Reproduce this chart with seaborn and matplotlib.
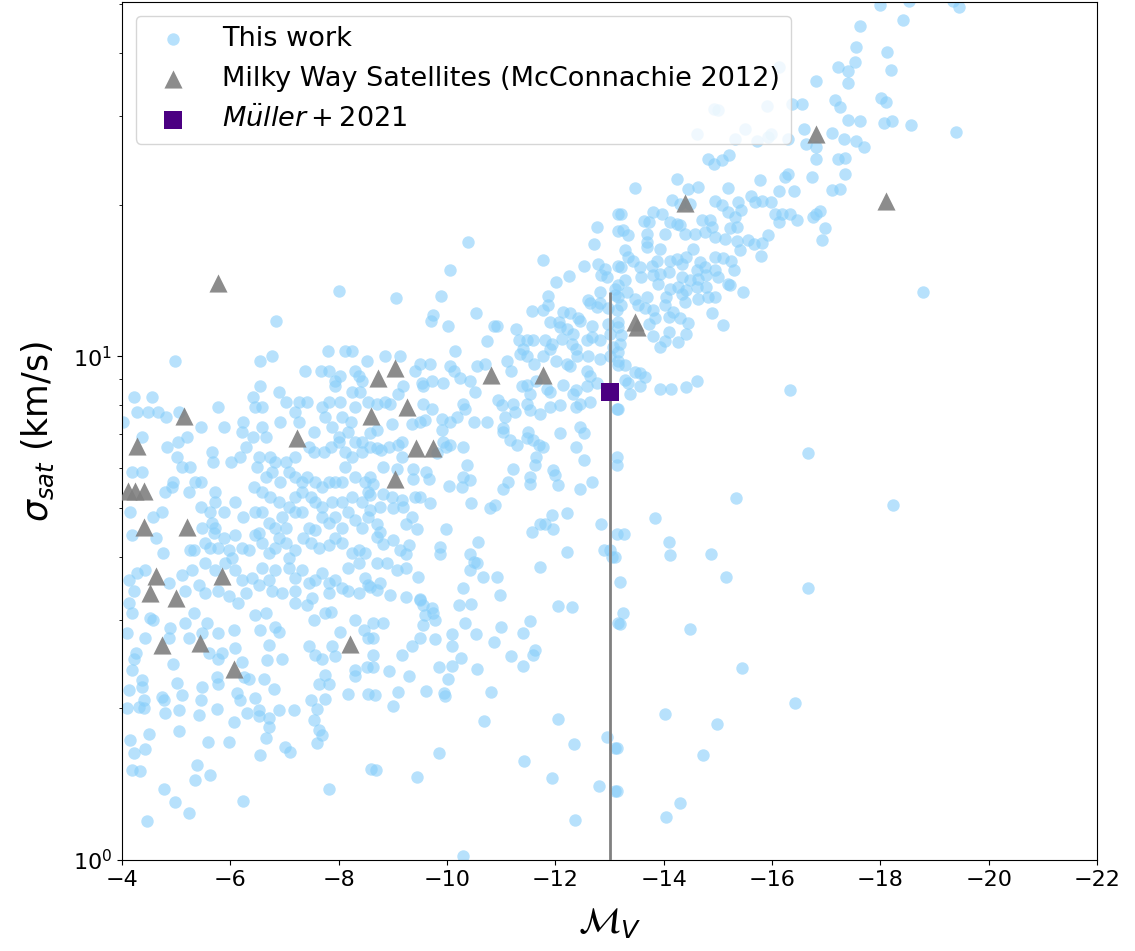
import numpy as np
import pandas as pd
import matplotlib
matplotlib.use("Agg")
import matplotlib.pyplot as plt
import seaborn as sns

# Simulated satellites: (M_V, log10 sigma_sat [km/s]), grouped by region of the plane
faint_upper = [
    (-8.01, 1.13), (-6.84, 1.07),
    (-4.97, .99), (-6.55, .99), (-6.77, 1.00), (-7.80, 1.01), (-8.12, 1.01), (-8.25, 1.01), (-7.38, .97), (-7.68, .97),
    (-7.82, .97), (-8.03, .96), (-7.94, .95), (-8.31, .97), (-8.38, .96), (-8.52, .99), (-8.43, .95), (-7.94, .94),
    (-6.90, .93), (-6.55, .94), (-6.41, .92), (-4.23, .92), (-4.55, .92), (-4.28, .89), (-4.48, .89), (-4.66, .89),
    (-4.82, .88), (-5.06, .89), (-5.78, .90), (-6.46, .90), (-6.58, .90), (-7.02, .91), (-7.26, .91), (-7.42, .91),
    (-7.20, .89), (-7.69, .90), (-7.82, .91), (-8.03, .91), (-8.25, .93), (-8.31, .90), (-8.40, .93), (-8.55, .91),
    (-4.02, .87), (-5.46, .86), (-5.88, .86), (-6.23, .87), (-6.22, .85), (-6.41, .84), (-6.58, .86), (-6.66, .84),
    (-6.92, .87), (-7.26, .87), (-7.54, .85), (-7.75, .88), (-7.88, .86), (-8.06, .88), (-8.23, .87), (-8.00, .84),
    (-8.18, .85), (-8.31, .83), (-8.43, .83),
    (-4.37, .84), (-4.83, .82), (-5.03, .83), (-5.20, .84), (-5.02, .80), (-5.10, .78), (-5.26, .78), (-5.66, .81),
    (-5.68, .79), (-6.02, .79), (-6.17, .80), (-6.28, .82), (-6.52, .80), (-6.74, .80), (-6.83, .79), (-7.02, .79),
    (-7.20, .80), (-7.45, .82), (-7.54, .81), (-7.72, .81), (-7.85, .82), (-8.00, .83), (-8.12, .81), (-8.25, .80),
    (-8.43, .81),
    (-4.18, .77), (-4.37, .77), (-4.95, .75), (-5.35, .75), (-5.46, .75), (-5.72, .73), (-6.43, .74), (-6.49, .78),
    (-6.65, .76), (-6.77, .77), (-6.92, .75), (-7.08, .77), (-7.20, .76), (-7.32, .75), (-7.42, .76), (-7.57, .75),
    (-7.69, .74), (-7.82, .75), (-7.94, .75), (-8.06, .75), (-8.12, .78), (-8.31, .76), (-8.49, .75),
    (-4.80, .73), (-4.92, .74), (-5.23, .73), (-5.45, .70), (-5.63, .69), (-5.72, .71), (-5.88, .69), (-6.09, .71),
    (-6.58, .73), (-6.74, .72), (-6.89, .71), (-7.08, .70), (-7.20, .72), (-7.32, .73), (-7.48, .72), (-7.57, .71),
    (-7.69, .70), (-7.88, .71), (-8.06, .71), (-8.25, .72), (-8.43, .71), (-8.55, .73),
    (-4.15, .69), (-4.58, .68), (-4.74, .69), (-5.48, .66), (-5.66, .67), (-5.72, .66), (-5.69, .65), (-5.88, .64),
    (-5.78, .62), (-6.09, .645), (-6.23, .68), (-6.46, .69), (-6.58, .69), (-6.71, .67), (-6.83, .66), (-6.95, .68),
    (-7.02, .66), (-7.20, .69), (-7.32, .69), (-7.45, .66), (-7.57, .655), (-7.69, .68), (-7.82, .67), (-7.94, .68),
    (-8.06, .66), (-8.18, .69), (-8.31, .675), (-8.43, .66), (-8.55, .68),
    (-4.18, .645), (-4.63, .64), (-4.75, .61), (-5.26, .615), (-5.32, .615), (-5.54, .63), (-5.63, .62), (-5.97, .615),
    (-6.03, .60), (-6.22, .62), (-6.34, .615), (-6.46, .645), (-6.52, .65), (-6.58, .63), (-6.71, .61), (-6.83, .62),
    (-6.89, .64), (-7.02, .63), (-7.08, .60), (-7.20, .615), (-7.35, .64), (-7.48, .63), (-7.63, .62), (-7.82, .625),
    (-7.94, .64), (-8.06, .63), (-8.25, .61), (-8.37, .615), (-8.49, .61),
    (-4.28, .57), (-4.42, .575), (-4.12, .555), (-4.22, .535), (-4.86, .55), (-5.11, .565), (-5.29, .575), (-5.54, .59),
    (-5.72, .575), (-5.91, .59), (-6.09, .575), (-6.22, .555), (-6.40, .56), (-6.58, .58), (-6.71, .555), (-6.83, .575),
    (-7.08, .58), (-7.20, .56), (-7.32, .575), (-7.45, .55), (-7.57, .555), (-7.69, .57), (-7.82, .55), (-7.94, .555),
    (-8.06, .54), (-8.18, .58), (-8.37, .59), (-8.49, .56),
    (-5.17, .535), (-5.42, .545), (-5.54, .53), (-5.78, .535), (-5.97, .525), (-6.28, .53), (-6.52, .545), (-6.77, .535),
    (-6.95, .53), (-7.20, .535), (-7.51, .52), (-7.82, .53), (-8.18, .535), (-8.37, .53), (-8.55, .545),
]

faint_lower = [
    (-4.12, .51), (-4.18, .49), (-4.52, .48), (-4.58, .476), (-4.09, .45), (-4.43, .44), (-4.25, .41), (-4.23, .40),
    (-4.89, .46), (-4.86, .44), (-4.95, .39), (-5.17, .47), (-5.23, .44), (-5.32, .49), (-5.57, .47), (-5.48, .45),
    (-5.77, .45), (-5.60, .41), (-5.78, .40), (-5.85, .41), (-6.06, .457), (-6.09, .42), (-6.15, .51), (-6.46, .486),
    (-6.55, .457), (-6.65, .49), (-6.71, .427), (-6.68, .397), (-6.83, .463), (-6.89, .453), (-6.95, .40), (-7.20, .51),
    (-7.42, .506), (-7.54, .476), (-7.75, .49), (-7.85, .493), (-7.88, .424), (-8.03, .453), (-8.31, .476), (-8.46, .457),
    (-8.55, .44), (-7.45, .424), (-7.57, .407), (-7.69, .40), (-7.94, .404), (-7.75, .367), (-7.82, .35), (-7.63, .35),
    (-8.31, .377), (-8.30, .365), (-8.52, .384), (-7.48, .318), (-7.60, .30), (-7.75, .32), (-7.54, .278), (-7.63, .258),
    (-7.69, .248), (-7.60, .232), (-8.18, .33), (-8.55, .33),
    (-4.18, .377), (-4.37, .357), (-4.37, .344), (-4.12, .338), (-4.40, .318), (-4.74, .324), (-4.77, .318), (-5.02, .352),
    (-5.11, .328), (-5.48, .344), (-5.45, .318), (-5.75, .364), (-5.78, .35), (-6.22, .394), (-6.25, .364), (-6.34, .36),
    (-6.62, .36), (-6.80, .34), (-6.12, .331), (-6.18, .318), (-6.45, .321), (-6.52, .298), (-6.52, .285), (-6.71, .281),
    (-6.71, .265), (-6.89, .298), (-7.17, .297), (-6.31, .291), (-5.75, .30), (-5.42, .288), (-5.06, .298), (-4.80, .291),
    (-4.40, .301), (-4.09, .301), (-4.31, .304), (-4.49, .25), (-5.05, .256), (-5.59, .235), (-5.97, .235), (-6.06, .273),
    (-6.65, .242), (-7.00, .225), (-7.11, .215), (-6.55, .208), (-4.15, .238), (-4.22, .213), (-4.43, .22), (-4.18, .179),
    (-4.34, .176), (-5.38, .189), (-5.35, .158), (-5.63, .169), (-4.77, .141), (-4.98, .115), (-5.23, .094), (-4.46, .078),
    (-6.23, .118), (-7.82, .14), (-8.60, .18),
]

mid_upper = [
    (-13.16, 1.282), (-12.76, 1.257), (-13.16, 1.249), (-10.39, 1.226), (-12.71, 1.222), (-11.77, 1.192),
    (-10.06, 1.172), (-12.53, 1.179), (-12.79, 1.183), (-12.92, 1.174), (-12.85, 1.161), (-12.95, 1.157),
    (-13.16, 1.179), (-12.26, 1.160), (-12.01, 1.148), (-9.89, 1.120), (-11.86, 1.119), (-9.06, 1.116),
    (-12.82, 1.128), (-13.10, 1.134), (-13.16, 1.118), (-12.61, 1.111), (-12.64, 1.105), (-12.76, 1.098),
    (-12.82, 1.105), (-12.98, 1.095), (-13.13, 1.091), (-9.75, 1.081), (-9.70, 1.071), (-10.01, 1.060),
    (-10.53, 1.085), (-11.56, 1.090), (-11.78, 1.091), (-11.86, 1.101), (-12.15, 1.088), (-12.27, 1.085),
    (-12.42, 1.075), (-12.46, 1.071), (-11.90, 1.068), (-12.06, 1.068), (-12.09, 1.058), (-12.21, 1.055),
    (-12.33, 1.045), (-12.67, 1.061), (-12.98, 1.065), (-13.01, 1.045), (-13.16, 1.068), (-11.27, 1.055),
    (-10.87, 1.060), (-10.92, 1.060), (-10.74, 1.030), (-11.32, 1.032), (-11.47, 1.033), (-11.59, 1.032),
    (-11.81, 1.032), (-11.93, 1.025), (-12.12, 1.035), (-12.30, 1.025), (-12.39, 1.015), (-12.58, 1.032),
    (-12.67, 1.038), (-12.82, 1.032), (-13.07, 1.019), (-11.41, 1.015), (-11.90, 1.015),
    (-8.86, 1.00), (-9.13, 1.00), (-9.50, .985), (-9.69, .985), (-10.06, .98), (-10.12, .97), (-10.15, 1.01),
    (-10.55, .98), (-10.70, .985), (-11.10, .99), (-11.35, 1.005), (-11.47, 1.00), (-11.60, .985), (-11.78, 1.00),
    (-12.02, .99), (-12.21, .985), (-12.40, 1.00), (-12.61, 1.00), (-12.82, .995), (-13.01, 1.00), (-13.16, .99),
    (-12.27, .98), (-12.58, .97), (-9.41, .97), (-9.53, .946), (-9.56, .94), (-9.72, .95), (-9.93, .946),
    (-10.24, .956), (-10.42, .95), (-10.52, .93), (-11.19, .97), (-11.38, .94), (-11.47, .942), (-11.53, .926),
    (-11.65, .95), (-11.84, .936), (-11.90, .93), (-12.15, .942), (-12.33, .926), (-12.39, .933), (-12.58, .94),
    (-12.76, .946), (-12.64, .96), (-9.19, .94), (-9.10, .926), (-8.95, .906), (-8.70, .906), (-8.85, .91),
    (-9.56, .906), (-9.72, .896), (-9.59, .873), (-9.90, .876), (-10.06, .87), (-10.30, .906), (-10.33, .896),
    (-10.18, .88), (-10.49, .87), (-10.73, .87), (-10.95, .913), (-11.01, .903), (-11.22, .906), (-11.25, .89),
    (-11.07, .88), (-11.04, .857), (-11.04, .85), (-11.47, .906), (-11.53, .893), (-11.72, .886), (-11.90, .90),
    (-12.09, .903), (-12.39, .90), (-12.45, .906), (-12.64, .91), (-13.13, .896), (-8.98, .866), (-8.70, .853),
    (-8.58, .847), (-9.35, .866), (-9.50, .87), (-9.90, .853), (-9.16, .83), (-9.10, .823), (-9.93, .83),
    (-10.06, .823), (-10.30, .82), (-9.99, .82), (-11.16, .833), (-11.29, .823), (-11.47, .837), (-11.59, .833),
    (-11.69, .823), (-11.78, .82), (-11.65, .80), (-11.50, .85), (-12.09, .848), (-12.45, .86), (-12.52, .847),
    (-12.39, .82), (-12.52, .794), (-8.58, .82), (-8.70, .817), (-8.79, .813), (-8.92, .82), (-9.16, .80),
    (-9.81, .807), (-8.82, .78), (-9.07, .777), (-9.38, .777), (-9.38, .757), (-9.66, .757), (-9.62, .77),
    (-10.36, .784), (-10.30, .76), (-10.42, .754), (-10.27, .74), (-10.04, .742), (-11.04, .737), (-11.13, .75),
    (-11.22, .777), (-11.53, .76), (-11.53, .747), (-11.62, .784), (-11.96, .774), (-11.99, .764), (-12.05, .744),
    (-12.45, .737), (-12.67, .75), (-8.58, .76), (-8.64, .747), (-8.58, .724), (-8.82, .727), (-8.98, .721),
    (-9.16, .714), (-9.50, .721), (-9.41, .721), (-9.69, .708), (-9.19, .701), (-10.45, .708), (-10.79, .698),
    (-10.89, .704), (-11.56, .652), (-11.72, .668), (-11.81, .668), (-11.93, .685), (-11.96, .658), (-12.21, .688),
    (-9.99, .658), (-8.58, .694), (-8.76, .70), (-9.01, .698), (-9.35, .681), (-9.44, .658), (-8.70, .668),
    (-8.76, .652), (-9.25, .668), (-8.70, .642), (-8.82, .628), (-9.01, .635), (-9.13, .615), (-9.29, .625),
    (-9.25, .608), (-9.87, .622), (-9.87, .608), (-10.42, .608), (-10.58, .632), (-10.49, .592), (-10.55, .589),
    (-10.42, .575), (-10.67, .562), (-10.92, .562), (-11.72, .582), (-12.21, .612), (-12.89, .615), (-13.01, .615),
    (-13.04, .602), (-12.85, .668), (-13.13, .648), (-8.70, .589), (-8.89, .589), (-9.07, .575), (-9.25, .579),
    (-9.47, .562), (-8.76, .549), (-8.58, .542), (-8.70, .536), (-8.95, .526), (-9.25, .523), (-9.50, .519),
    (-10.30, .539), (-10.98, .526),
]

mid_lower = [
    (-9.50, .516), (-9.56, .506), (-9.72, .50), (-9.75, .49), (-9.59, .486), (-9.56, .466), (-9.78, .476),
    (-8.64, .47), (-8.82, .47), (-8.64, .44), (-9.50, .44), (-9.78, .438), (-9.35, .424), (-9.16, .407),
    (-8.64, .407), (-8.64, .384), (-8.92, .375), (-9.29, .365), (-9.10, .334), (-8.67, .328), (-9.01, .305),
    (-9.61, .336), (-9.94, .332), (-9.96, .326), (-9.86, .383), (-10.02, .359), (-10.10, .385), (-10.26, .402),
    (-10.09, .424), (-10.10, .448), (-10.33, .471), (-10.23, .506), (-10.44, .508), (-10.53, .449), (-10.99, .462),
    (-10.87, .433), (-10.55, .379), (-10.81, .334), (-11.19, .404), (-11.41, .45), (-11.41, .385), (-11.54, .475),
    (-11.62, .417), (-11.59, .407), (-12.05, .504), (-12.31, .503), (-10.69, .276), (-12.05, .28), (-12.34, .23),
    (-12.96, .244), (-13.10, .222), (-9.85, .213), (-11.42, .197), (-11.93, .162), (-12.81, .147), (-13.10, .136),
    (-8.69, .179), (-9.44, .164), (-12.36, .08), (-10.30, .008), (-13.16, .47),
]

bright_upper = [
    (-17.62, 1.655), (-17.56, 1.614), (-17.54, 1.584), (-17.22, 1.574), (-17.41, 1.567), (-17.40, 1.542),
    (-16.82, 1.547), (-17.16, 1.508), (-17.26, 1.494), (-17.41, 1.469), (-17.62, 1.468), (-16.56, 1.50),
    (-16.59, 1.452), (-17.11, 1.444), (-17.32, 1.432), (-17.56, 1.428), (-16.62, 1.422), (-16.82, 1.415),
    (-16.82, 1.392), (-17.21, 1.392), (-17.35, 1.394), (-17.34, 1.362), (-16.74, 1.356), (-16.30, 1.362),
    (-16.24, 1.356), (-14.82, 1.392), (-14.92, 1.381), (-15.08, 1.39), (-15.21, 1.40), (-14.24, 1.352),
    (-15.78, 1.349), (-17.69, 1.415),
    (-16.12, 1.574), (-14.92, 1.491), (-15.01, 1.488), (-15.90, 1.496), (-16.36, 1.501), (-15.50, 1.451),
    (-15.72, 1.428), (-15.93, 1.435), (-15.99, 1.441), (-15.32, 1.431), (-16.30, 1.431), (-14.61, 1.441),
    (-13.47, 1.335), (-14.45, 1.333), (-14.64, 1.337), (-15.18, 1.335), (-16.12, 1.329), (-16.41, 1.328),
    (-17.10, 1.331), (-17.26, 1.333), (-14.15, 1.311), (-14.30, 1.303), (-14.49, 1.303), (-14.95, 1.308),
    (-15.07, 1.30), (-15.38, 1.306), (-15.62, 1.319), (-15.81, 1.309), (-15.99, 1.306), (-15.69, 1.306),
    (-13.22, 1.282), (-13.81, 1.286), (-13.96, 1.283), (-13.64, 1.268), (-13.72, 1.266), (-14.12, 1.266),
    (-14.24, 1.263), (-14.30, 1.26), (-14.70, 1.271), (-14.86, 1.27), (-14.89, 1.257), (-14.76, 1.247),
    (-14.95, 1.237), (-15.13, 1.233), (-15.19, 1.286), (-15.32, 1.276), (-15.43, 1.29), (-15.22, 1.255),
    (-15.35, 1.257), (-16.06, 1.282), (-16.12, 1.266), (-16.18, 1.283), (-16.34, 1.283), (-16.46, 1.271),
    (-16.76, 1.276), (-16.82, 1.283), (-16.89, 1.288), (-16.97, 1.255), (-16.93, 1.231), (-13.25, 1.25),
    (-13.35, 1.24), (-13.69, 1.243), (-13.69, 1.227), (-13.69, 1.216), (-14.02, 1.243), (-14.39, 1.242),
    (-14.57, 1.242), (-15.35, 1.229), (-15.41, 1.21), (-15.56, 1.23), (-15.66, 1.223), (-15.81, 1.225),
    (-15.93, 1.24), (-15.80, 1.20), (-13.93, 1.212), (-14.55, 1.212), (-14.95, 1.198), (-15.10, 1.196),
    (-15.25, 1.19), (-13.22, 1.177), (-13.29, 1.21), (-13.35, 1.197), (-13.44, 1.19), (-13.56, 1.177),
    (-13.78, 1.18), (-13.87, 1.19), (-14.12, 1.19), (-14.24, 1.194), (-14.33, 1.184), (-14.42, 1.197),
    (-14.67, 1.187), (-14.61, 1.171), (-14.76, 1.177), (-14.95, 1.171), (-15.29, 1.171), (-13.59, 1.157),
    (-13.81, 1.161), (-13.93, 1.164), (-14.09, 1.167), (-14.33, 1.157), (-14.49, 1.151), (-14.64, 1.154),
    (-14.79, 1.161), (-15.01, 1.157), (-15.19, 1.144), (-15.47, 1.128), (-13.29, 1.151), (-13.16, 1.141),
    (-13.32, 1.128), (-13.10, 1.121), (-13.47, 1.114), (-13.69, 1.118), (-13.90, 1.144), (-14.12, 1.134),
    (-14.27, 1.138), (-14.42, 1.131), (-14.61, 1.138), (-14.79, 1.138), (-14.95, 1.118), (-15.22, 1.141),
    (-14.05, 1.118), (-14.33, 1.124), (-14.39, 1.108), (-14.64, 1.114), (-14.82, 1.118), (-13.22, 1.101),
    (-13.53, 1.101), (-13.65, 1.095), (-13.81, 1.091), (-14.02, 1.101), (-14.18, 1.088), (-13.84, 1.075),
    (-13.72, 1.065), (-14.09, 1.078), (-14.30, 1.075), (-14.45, 1.066), (-14.89, 1.085), (-15.10, 1.063),
    (-14.42, 1.045), (-14.09, 1.048), (-13.81, 1.04), (-14.02, 1.03), (-14.27, 1.028), (-13.93, 1.018),
    (-13.16, 1.058), (-13.22, 1.042), (-13.19, 1.025), (-13.16, 1.009),
]

bright_lower = [
    (-13.16, .982), (-13.29, .982), (-13.47, .969), (-13.56, .966), (-13.65, .958), (-13.29, .952), (-13.35, .946),
    (-13.38, .926), (-13.56, .94), (-13.94, .936), (-14.13, .936), (-14.42, .939), (-14.61, .951), (-16.33, .934),
    (-13.15, .896), (-13.13, .80), (-13.13, .784), (-16.67, .807), (-15.34, .719), (-13.84, .678), (-13.27, .648),
    (-14.10, .632), (-14.12, .605), (-14.88, .607), (-13.10, .602), (-15.15, .561), (-13.20, .551), (-16.66, .54),
    (-13.25, .491), (-13.20, .468), (-14.48, .458), (-15.45, .382), (-16.42, .311), (-14.02, .29), (-14.98, .27),
    (-13.13, .222), (-14.72, .208), (-13.13, .136), (-14.30, .114), (-14.04, .086),
]

brightest = [
    (-17.99, 1.698), (-18.52, 1.705), (-19.35, 1.705), (-19.45, 1.694), (-18.41, 1.668), (-18.13, 1.605),
    (-18.20, 1.569), (-18.01, 1.513), (-18.10, 1.504), (-18.07, 1.463), (-18.22, 1.468), (-18.57, 1.46),
    (-19.39, 1.446), (-18.79, 1.127), (-18.23, 0.704),
]

# Milky Way satellites (McConnachie 2012)
mw_mv = [-5.77, -5.14, -4.28, -4.11, -4.24, -4.41, -4.41, -5.20, -4.63, -5.85, -4.52, -5.00, -4.74, -5.44,
         -6.07, -8.21, -7.23, -8.60, -8.72, -9.04, -9.26, -9.43, -9.74, -9.04, -10.81, -11.77, -13.47,
         -13.50, -14.39, -16.81, -18.10]
mw_sigma = [13.96, 7.60, 6.65, 5.40, 5.40, 5.40, 4.58, 4.58, 3.67, 3.67, 3.39, 3.31, 2.67, 2.70,
            2.39, 2.69, 6.87, 7.60, 9.04, 9.46, 7.93, 6.59, 6.59, 5.70, 9.20, 9.20, 11.67,
            11.43, 20.14, 27.67, 20.32]

# Muller et al. 2021
muller_mv = [-13.0]
muller_sigma = [8.5]
muller_err_low = [8.0]
muller_err_high = [4.9]

groups = [faint_upper, faint_lower, mid_upper, mid_lower, bright_upper, bright_lower, brightest]
pts = np.array([p for g in groups for p in g])
sims = pd.DataFrame({"MV": pts[:, 0], "sigma": 10 ** pts[:, 1]})
mw = pd.DataFrame({"MV": mw_mv, "sigma": mw_sigma})
mu = pd.DataFrame({"MV": muller_mv, "sigma": muller_sigma})

fig = plt.figure(figsize=(11.35, 9.51), dpi=100)
ax = fig.add_axes([122 / 1135, 91 / 951, 975 / 1135, 858 / 951])

sns.scatterplot(data=sims, x="MV", y="sigma", color="lightskyblue", alpha=0.6, s=80,
                linewidth=0, label="This work", ax=ax, zorder=2)
sns.scatterplot(data=mw, x="MV", y="sigma", color="gray", marker="^", s=170, alpha=0.9,
                linewidth=0, label="Milky Way Satellites (McConnachie 2012)", ax=ax, zorder=3)
ax.errorbar(muller_mv, muller_sigma, yerr=[muller_err_low, muller_err_high], fmt="none",
            ecolor="gray", elinewidth=2, capsize=0, zorder=4)
sns.scatterplot(data=mu, x="MV", y="sigma", color="indigo", marker="s", s=170,
                linewidth=0, label=r"$M\ddot{u}ller+2021$", ax=ax, zorder=5)

ax.set_yscale("log")
ax.set_xlim(-4, -22)
ax.set_ylim(1, 50.5)
ax.set_xlabel(r"$\mathcal{M}_V$", fontsize=26, labelpad=12)
ax.set_ylabel(r"$\sigma_{sat}$ (km/s)", fontsize=25, labelpad=12)
ax.tick_params(axis="both", which="major", labelsize=16)

ax.legend(loc="upper left", fontsize=19.5)

fig.savefig("out.png", dpi=100)
